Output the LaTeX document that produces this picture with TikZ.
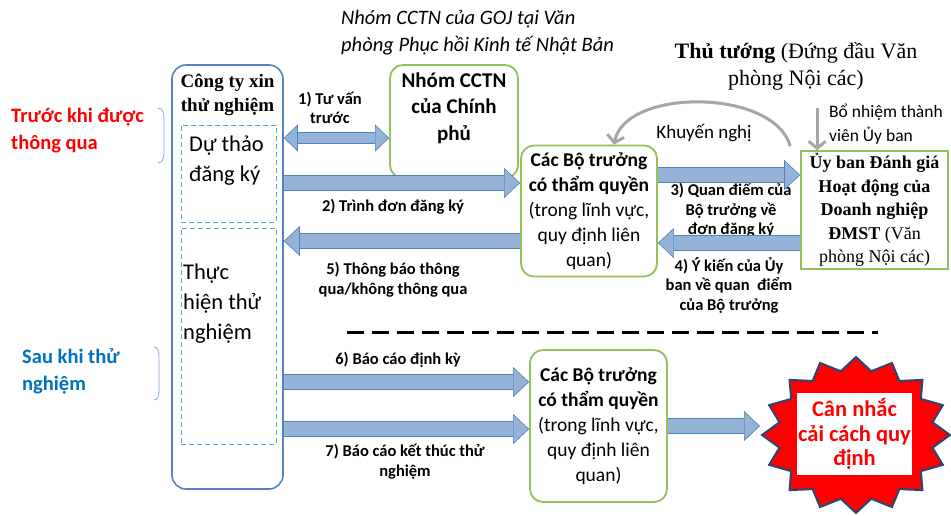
\documentclass[tikz,border=0pt]{standalone}
\usepackage{fontspec}
\setmainfont{Carlito}
\newfontfamily\serifvn{Liberation Serif}
\usepackage{xcolor}
\usetikzlibrary{positioning,arrows.meta,calc}
\definecolor{firmblue}{RGB}{84,130,196}
\definecolor{dashcyan}{RGB}{75,172,198}
\definecolor{boxgreen}{RGB}{150,192,90}
\definecolor{arrfill}{RGB}{149,179,215}
\definecolor{arredge}{RGB}{79,129,189}
\definecolor{notegray}{RGB}{166,166,166}
\definecolor{phaseblue}{RGB}{0,112,192}
\definecolor{burstedge}{RGB}{40,70,120}
\tikzset{
  firmbox/.style={draw=firmblue,line width=1.6pt,rounded corners=14pt},
  dashbox/.style={draw=dashcyan,dashed,dash pattern=on 5pt off 3pt,line width=1pt},
  grnbox/.style={draw=boxgreen,line width=1.8pt,rounded corners=13pt,fill=white,
                 align=center,inner sep=0pt},
  minbox/.style={grnbox,minimum width=136pt,minimum height=131pt,
                 font=\fontsize{19.5}{25}\selectfont},
  cmtebox/.style={draw=boxgreen,line width=1.6pt,fill=white,align=center,inner sep=0pt,
                  minimum width=147pt,minimum height=118pt,
                  font=\serifvn\fontsize{18}{23.5}\selectfont},
  sertl/.style={font=\serifvn\bfseries\fontsize{19}{24}\selectfont,align=center,inner sep=0pt},
  bigtxt/.style={font=\fontsize{22.5}{30}\selectfont,align=left,inner sep=0pt},
  phase/.style={font=\bfseries\fontsize{20.5}{27}\selectfont,align=left,inner sep=0pt},
  note/.style={font=\itshape\fontsize{20.5}{27}\selectfont,align=left,inner sep=0pt},
  lbl/.style={font=\bfseries\fontsize{16.5}{19.5}\selectfont,align=center,inner sep=0pt},
  fl/.style={draw=arredge,line width=0.6pt,double=arrfill,double distance=14pt,
             -{Triangle[width=30pt,length=16pt,fill=arrfill,line width=0.6pt 0 0]}},
  flb/.style={draw=arredge,line width=0.6pt,double=arrfill,double distance=10pt,
             {Triangle[width=27pt,length=14pt,fill=arrfill,line width=0.6pt 0 0]}-{Triangle[width=27pt,length=14pt,fill=arrfill,line width=0.6pt 0 0]}},
  gar/.style={draw=notegray,line width=3pt,-{Straight Barb[length=7pt,width=17pt]}},
  brc/.style={draw=firmblue!70,line width=0.8pt},
  sep/.style={draw=black,line width=3pt,dash pattern=on 17pt off 8pt},
  burst/.style={fill=red,draw=burstedge,line width=2pt,line join=miter},
}
\begin{document}
\begin{tikzpicture}[x=1pt,y=-1pt,node distance=4pt]
\useasboundingbox[fill=white] (0,0) rectangle (951,515);
% phases
\node[phase,text=red,anchor=west] (before) at (11,131) {Trước khi được\\thông qua};
\node[phase,text=phaseblue,anchor=west] (after) at (22,371) {Sau khi thử\\nghiệm};
\draw[brc] (158,108) to[out=0,in=90] (164,118) -- (164,153) to[out=-90,in=0] (158,163);
\draw[brc] (154,347) to[out=0,in=90] (159,356) -- (159,391) to[out=-90,in=0] (154,400);
% applicant
\node[firmbox,minimum width=111pt,minimum height=424pt] (firm) at (227.5,277) {};
\node[sertl,below=10pt of firm.north] (firmttl) {Công ty xin\\thử nghiệm};
\node[dashbox,minimum width=95pt,minimum height=97pt] (draft) at (228.5,173.5) {};
\node[bigtxt,anchor=west] (drafttxt) at (189,161) {Dự thảo\\đăng ký};
\node[dashbox,minimum width=95pt,minimum height=216pt] (trial) at (228.5,336) {};
\node[bigtxt,anchor=west] (trialtxt) at (183,304) {Thực\\hiện thử\\nghiệm};
% government group
\node[note,anchor=west] (goj) at (341,33) {Nhóm CCTN của GOJ tại Văn\\phòng Phục hồi Kinh tế Nhật Bản};
\node[grnbox,minimum width=128pt,minimum height=113pt] (gov) at (454,121.5) {};
\node[lbl,font=\bfseries\fontsize{21}{26.5}\selectfont,below=8pt of gov.north] (govtxt) {Nhóm CCTN\\của Chính\\phủ};
% ministers and committee
\node[minbox] (min1) at (589,211) {\textbf{Các Bộ trưởng}\\\textbf{có thẩm quyền}\\(trong lĩnh vực,\\quy định liên\\quan)};
\node[cmtebox] (cmte) at (874.5,210) {\textbf{Ủy ban Đánh giá}\\\textbf{Hoạt động của}\\\textbf{Doanh nghiệp}\\\textbf{ĐMST} (Văn\\phòng Nội các)};
\node[align=center,inner sep=0pt,font=\serifvn\fontsize{22}{27}\selectfont] (pm) at (796,66) {\textbf{Thủ tướng} (Đứng đầu Văn\\phòng Nội các)};
\node[align=left,inner sep=0pt,font=\fontsize{17.5}{24}\selectfont,anchor=west] (appoint) at (829,124) {Bổ nhiệm thành\\viên Ủy ban};
\node[inner sep=0pt,font=\fontsize{19}{20}\selectfont] (recom) at (704,133) {Khuyến nghị};
% after trial
\node[minbox,minimum width=137pt,minimum height=152pt] (min2) at (598.5,426) {\textbf{Các Bộ trưởng}\\\textbf{có thẩm quyền}\\(trong lĩnh vực,\\quy định liên\\quan)};
\coordinate (burst) at (856,435);
\coordinate (burstw) at (760,426);
\draw[burst,shift={(burst)}] plot[samples=33,domain=0:32,variable=\k]
  ({(94-16*mod(\k,2))*cos(90+11.25*\k)},{-(78-13*mod(\k,2))*sin(90+11.25*\k)}) -- cycle;
\node[fill=white,minimum width=115pt,minimum height=82pt,align=center,inner sep=0pt,
      text=red,font=\bfseries\fontsize{22.5}{24.5}\selectfont] (reform) at (854.5,434) {Cân nhắc\\cải cách quy\\định};
\draw[sep] (347,332) -- (878,332);
% labels
\node[lbl] (l1) at (330,108) {1) Tư vấn\\trước};
\node[lbl] (l2) at (393,207) {2) Trình đơn đăng ký};
\node[lbl] (l5) at (393,280) {5) Thông báo thông\\qua/không thông qua};
\node[lbl] (l3) at (731,210) {3) Quan điểm của\\Bộ trưởng về\\đơn đăng ký};
\node[lbl] (l4) at (729,285.5) {4) Ý kiến của Ủy\\ban về quan\ \ điểm\\của Bộ trưởng};
\node[lbl] (l6) at (398,360) {6) Báo cáo định kỳ};
\node[lbl] (l7) at (405,461.5) {7) Báo cáo kết thúc thử\\nghiệm};
% flows
\coordinate (r1) at (0,138); \coordinate (r2) at (0,183);
\coordinate (r3) at (0,175); \coordinate (r4) at (0,243);
\coordinate (r5) at (0,241); \coordinate (r6) at (0,382);
\coordinate (r7) at (0,429);
\draw[flb] (firm.east |- r1) -- (gov.west |- r1);
\draw[fl] (firm.east |- r2) -- (min1.west |- r2);
\draw[fl] (min1.east |- r3) -- (cmte.west |- r3);
\draw[fl] (cmte.west |- r4) -- (min1.east |- r4);
\draw[fl] (min1.west |- r5) -- (firm.east |- r5);
\draw[fl] (firm.east |- r6) -- (min2.west |- r6);
\draw[fl] (firm.east |- r7) -- (min2.west |- r7);
\draw[fl] (min2.east) -- (burstw);
\coordinate (apt) at ($(cmte.north west)+(17,-42)$);
\draw[gar] (apt) -- (apt |- cmte.north);
\draw[gar] ([xshift=-10pt,yshift=4pt]cmte.north west) .. controls +(-16,-58) and +(11,-57) .. ([xshift=25pt]min1.north);
\end{tikzpicture}
\end{document}
